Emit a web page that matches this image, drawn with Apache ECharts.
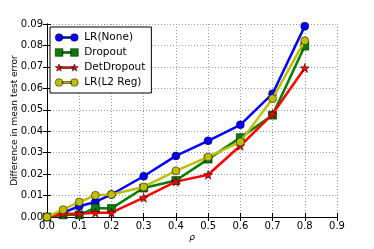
<!DOCTYPE html>
<html>
<head>
<meta charset="utf-8">
<script src="https://cdn.jsdelivr.net/npm/echarts@6/dist/echarts.min.js"></script>
<style>html,body{margin:0;padding:0;background:#fff;}#c{width:374px;height:249px;}</style>
</head>
<body>
<div id="c"></div>
<script>
const rho = [0, 0.05, 0.1, 0.15, 0.2, 0.3, 0.4, 0.5, 0.6, 0.7, 0.8];
const lrNone = [0, 0.002, 0.005, 0.007, 0.0105, 0.019, 0.0285, 0.0355, 0.043, 0.0575, 0.089];
const dropout = [0, 0.001, 0.001, 0.0042, 0.004, 0.0135, 0.017, 0.027, 0.037, 0.0475, 0.0797];
const detDropout = [0, 0.0015, 0.0015, 0.002, 0.002, 0.009, 0.0165, 0.0197, 0.0332, 0.048, 0.0695];
const lrL2 = [0, 0.0034, 0.007, 0.0101, 0.0105, 0.014, 0.0215, 0.028, 0.035, 0.0552, 0.0822];
const xTicks = [0, 0.9, 0.1];
const yTicks = [0, 0.09, 0.01];

const names = ['LR(None)', 'Dropout', 'DetDropout', 'LR(L2 Reg)'];
const colors = ['#0000ff', '#008000', '#ff0000', '#bfbf00'];
const symbols = ['circle', 'rect', 'path://M5,0.3L6.176,3.682L9.755,3.755L6.902,5.918L7.939,9.345L5,7.3L2.061,9.345L3.098,5.918L0.245,3.755L3.824,3.682Z', 'circle'];
const sizes = [8, 8, 9, 8];
const legendIcons = [
  'path://M0,5A5,5 0 1,1 10,5A5,5 0 1,1 0,5ZM9,3.8L21,3.8L21,6.2L9,6.2ZM20,5A5,5 0 1,1 30,5A5,5 0 1,1 20,5Z',
  'path://M0,0L10,0L10,10L0,10ZM9,3.8L21,3.8L21,6.2L9,6.2ZM20,0L30,0L30,10L20,10Z',
  'path://M5,0.3L6.176,3.682L9.755,3.755L6.902,5.918L7.939,9.345L5,7.3L2.061,9.345L3.098,5.918L0.245,3.755L3.824,3.682ZM6,3.8L24,3.8L24,6.2L6,6.2ZM25,0.3L26.176,3.682L29.755,3.755L26.902,5.918L27.939,9.345L25,7.3L22.061,9.345L23.098,5.918L20.245,3.755L23.824,3.682Z',
  'path://M0,5A5,5 0 1,1 10,5A5,5 0 1,1 0,5ZM9,3.8L21,3.8L21,6.2L9,6.2ZM20,5A5,5 0 1,1 30,5A5,5 0 1,1 20,5Z'
];
const seriesData = [lrNone, dropout, detDropout, lrL2];

const font = 'DejaVu Sans';
const chart = echarts.init(document.getElementById('c'), null, {renderer: 'canvas'});
const axisLine = {show: true, lineStyle: {color: '#000', width: 1}};
const tick = {show: true, inside: true, length: 4, lineStyle: {color: '#000'}};
const split = {show: true, lineStyle: {color: '#999', type: [1, 2], width: 1}};

chart.setOption({
  animation: false,
  backgroundColor: '#fff',
  grid: {left: 47, right: 37, top: 24, bottom: 32, containLabel: false, outerBoundsMode: 'none'},
  legend: {
    left: 50, top: 27, orient: 'vertical',
    padding: [5, 6, 5, 5],
    itemGap: 4, itemWidth: 23, itemHeight: 8,
    backgroundColor: '#fff', borderColor: '#000', borderWidth: 1,
    textStyle: {fontFamily: font, fontSize: 10.5, color: '#000', padding: [0, 0, 0, 1]},
    data: names.map((n, i) => ({name: n, icon: legendIcons[i], itemStyle: {color: colors[i], borderColor: '#000', borderWidth: 0.5}}))
  },
  xAxis: [{
    type: 'value', min: xTicks[0], max: xTicks[1], interval: xTicks[2],
    name: 'ρ', nameLocation: 'middle', nameGap: 16, nameMoveOverlap: false,
    nameTextStyle: {fontFamily: font, fontSize: 9, fontStyle: 'italic', color: '#000'},
    axisLine: axisLine, axisTick: tick, splitLine: split,
    axisLabel: {fontFamily: font, fontSize: 10, color: '#000', margin: 4, formatter: v => v.toFixed(1)}
  }, {
    type: 'value', position: 'top', min: xTicks[0], max: xTicks[1], interval: xTicks[2],
    axisLine: axisLine, axisTick: tick, splitLine: {show: false}, axisLabel: {show: false}
  }],
  yAxis: [{
    type: 'value', min: yTicks[0], max: yTicks[1], interval: yTicks[2],
    name: 'Difference in mean test error', nameLocation: 'middle', nameGap: 28, nameMoveOverlap: false,
    nameTextStyle: {fontFamily: font, fontSize: 9, color: '#000'},
    axisLine: axisLine, axisTick: tick, splitLine: split,
    axisLabel: {fontFamily: font, fontSize: 10, color: '#000', margin: 4, formatter: v => v.toFixed(2)}
  }, {
    type: 'value', position: 'right', min: yTicks[0], max: yTicks[1], interval: yTicks[2],
    axisLine: axisLine, axisTick: tick, splitLine: {show: false}, axisLabel: {show: false}
  }],
  series: names.map((n, i) => ({
    name: n, type: 'line',
    data: rho.map((x, j) => [x, seriesData[i][j]]),
    symbol: symbols[i], symbolSize: sizes[i],
    lineStyle: {color: colors[i], width: 2.5},
    itemStyle: {color: colors[i], borderColor: '#000', borderWidth: 0.5},
    clip: false,
    z: 2 + i
  }))
});
</script>
</body>
</html>
